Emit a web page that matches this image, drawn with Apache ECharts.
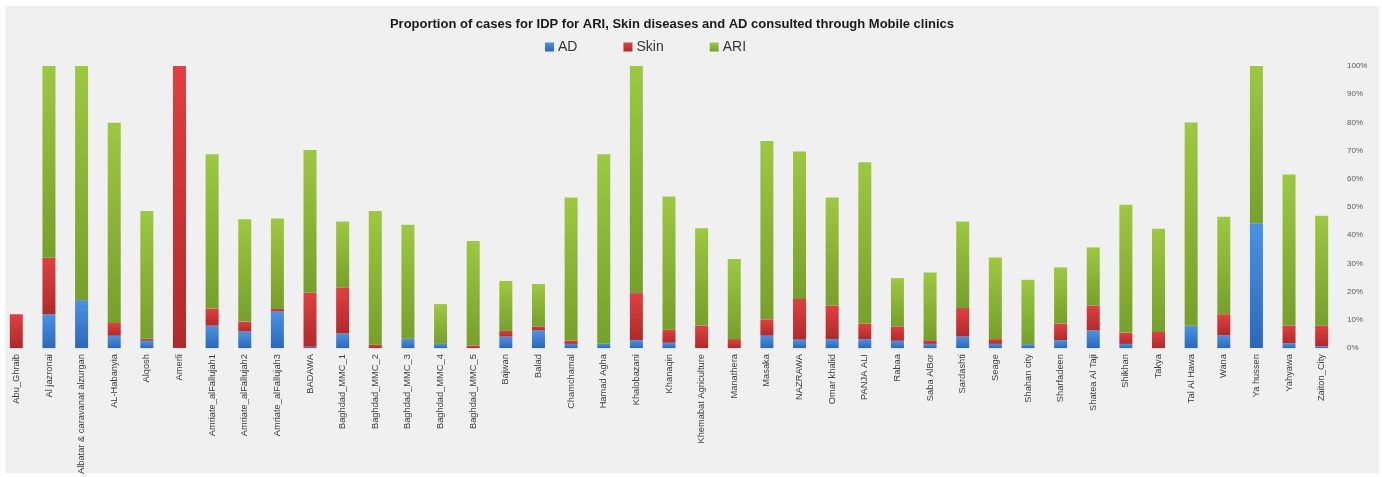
<!DOCTYPE html>
<html>
<head>
<meta charset="utf-8">
<script src="https://cdn.jsdelivr.net/npm/echarts@6/dist/echarts.min.js"></script>
<style>
html,body{margin:0;padding:0;background:#ffffff;}
#chart{width:1382px;height:477px;}
</style>
</head>
<body>
<div id="chart"></div>
<script>
var categories = ["Abu_Ghraib","Al jazronai","Albatar & caravanat alzurgan","AL-Habanyia","Alqosh","Amerli","Amriate_alFallujah1","Amriate_alFallujah2","Amriate_alFallujah3","BADAWA","Baghdad_MMC_1","Baghdad_MMC_2","Baghdad_MMC_3","Baghdad_MMC_4","Baghdad_MMC_5","Bajwan","Balad","Chamchamal","Hamad Agha","Khalobazani","Khanaqin","Khemabat Agriculture","Manathera","Masaka","NAZRAWA","Omar khalid","PANJA ALI","Rabaa","Saba AlBor","Sardashti","Seage","Shahan city","Sharfadeen","Shatea Al Taji","Shikhan","Takya","Tal Al Hawa","Wana","Ya hussen","Yahyawa","Zaiton_City"];
var AD   = [0,12,17,4.4,2.6,0,8,5.9,13,0.5,5.2,0,3.3,1.5,0,4.1,6.3,1.5,1.5,2.8,1.9,0,0,4.4,3,3.2,3.2,2.6,1.5,4.1,1.5,1.4,2.8,6.3,1.5,0,7.9,4.5,44.3,1.7,0.7];
var Skin = [12,20,0,4.5,0.7,100,6,3.5,0.9,19.1,16.3,1.2,0,0,0.9,2,1.4,1.2,0,16.7,4.6,8,3.2,5.8,14.4,11.9,5.5,5.1,1.3,10.1,1.7,0,5.9,8.8,4,5.7,0,7.5,0,6.3,7.2];
var ARI  = [0,68,83,71,45.3,0,54.7,36.3,32,50.6,23.4,47.4,40.4,14.1,37.1,17.7,15,50.7,67.2,80.5,47.2,34.5,28.4,63.2,52.3,38.3,57.2,17.1,24,30.7,28.9,22.8,19.9,20.6,45.3,36.6,72.1,34.6,55.7,53.5,39];
var yTicks = [0,10,20,30,40,50,60,70,80,90,100];

function grad(top, bottom){
  return new echarts.graphic.LinearGradient(0,0,0,1,[{offset:0,color:top},{offset:1,color:bottom}]);
}
var chart = echarts.init(document.getElementById('chart'));
var font = "'Liberation Sans Narrow','Liberation Sans',Arial,sans-serif";
chart.setOption({
  animation:false,
  backgroundColor:'#ffffff',
  graphic:[{type:'rect',shape:{x:5,y:6,width:1374,height:467},style:{fill:'#f0f0f0'},z:-10}],
  title:{
    text:'Proportion of cases for IDP for ARI, Skin diseases and AD consulted through Mobile clinics',
    left:667, top:13, textAlign:'center',
    textStyle:{fontSize:13,fontWeight:'bold',color:'#1a1a1a',fontFamily:"'Liberation Sans',Arial,sans-serif"}
  },
  legend:{
    data:['AD','Skin','ARI'],
    left:540, top:35,
    icon:'rect', itemWidth:9, itemHeight:9, itemGap:46,
    textStyle:{fontSize:14,color:'#333',fontFamily:"'Liberation Sans',Arial,sans-serif", padding:[0,0,0,-1]}
  },
  grid:{left:0, top:66, width:1338, height:282.5, containLabel:false},
  xAxis:{
    type:'category', data:categories,
    axisLine:{show:false}, axisTick:{show:false},
    axisLabel:{rotate:90, interval:0, margin:6, fontSize:9.3, color:'#404040', fontFamily:font}
  },
  yAxis:{
    type:'value', position:'right', min:yTicks[0], max:yTicks[yTicks.length-1], interval:10,
    splitLine:{show:false}, axisLine:{show:false}, axisTick:{show:false},
    axisLabel:{formatter:'{value}%', margin:9, fontSize:8, color:'#595959', fontFamily:font}
  },
  series:[
    {name:'AD', type:'bar', stack:'a', data:AD, barWidth:13,
     itemStyle:{color:grad('#4c92e2','#2c68bb')}},
    {name:'Skin', type:'bar', stack:'a', data:Skin, barWidth:13,
     itemStyle:{color:grad('#df4040','#b02a2a')}},
    {name:'ARI', type:'bar', stack:'a', data:ARI, barWidth:13,
     itemStyle:{color:grad('#9dc842','#76a02b')}}
  ]
});
</script>
</body>
</html>
